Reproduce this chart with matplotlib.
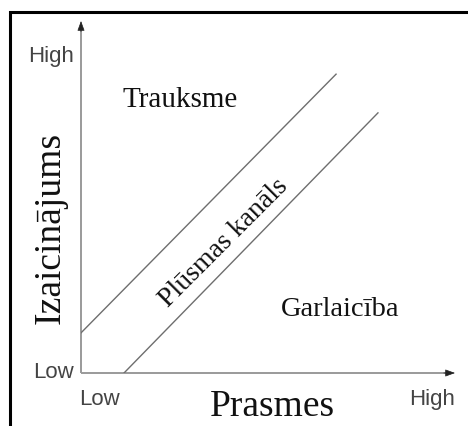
import matplotlib
matplotlib.use("Agg")
import matplotlib.pyplot as plt
from matplotlib.patches import Rectangle

# Data
tick_positions_x = [0.05, 0.94]
tick_labels_x = ["Low", "High"]
tick_positions_y = [0.01, 0.909]
tick_labels_y = ["Low", "High"]
upper_line_x = [0.0, 0.682]
upper_line_y = [0.114, 0.849]
lower_line_x = [0.115, 0.794]
lower_line_y = [0.0, 0.739]
region_labels = ["Trauksme", "Plūsmas kanāls", "Garlaicība"]
region_x = [0.265, 0.383, 0.693]
region_y = [0.778, 0.372, 0.182]
region_rot = [0, 45, 0]
region_size = [21, 20, 20.5]
x_label = "Prasmes"
y_label = "Izaicinājums"

W, H = 468, 427
fig = plt.figure(figsize=(W / 100, H / 100), dpi=100)
fig.patch.set_facecolor("white")

# outer frame
fig.patches.append(Rectangle((10 / W, -0.2), 1.3, 1 - 13 / H + 0.2, fill=False,
                             lw=2.2, edgecolor="black", transform=fig.transFigure,
                             clip_on=False))

ax = fig.add_axes([81 / W, 53 / H, (455 - 81) / W, (374 - 22) / H])
ax.set_xlim(0, 1)
ax.set_ylim(0, 1)
for s in ax.spines.values():
    s.set_visible(False)
ax.set_facecolor("none")

axis_col = "#9a9a9a"
ax.plot([0, 0.985], [0, 0], color=axis_col, lw=1.4, clip_on=False, solid_capstyle="butt")
ax.plot([0, 0], [0, 0.985], color=axis_col, lw=1.4, clip_on=False, solid_capstyle="butt")
ax.annotate("", xy=(1.0, 0), xytext=(0.97, 0),
            arrowprops=dict(arrowstyle="-|>,head_length=0.6,head_width=0.22",
                            color="#222222", lw=0.5, shrinkA=0, shrinkB=0),
            annotation_clip=False)
ax.annotate("", xy=(0, 1.0), xytext=(0, 0.97),
            arrowprops=dict(arrowstyle="-|>,head_length=0.6,head_width=0.22",
                            color="#222222", lw=0.5, shrinkA=0, shrinkB=0),
            annotation_clip=False)

line_col = "#6e6e6e"
ax.plot(upper_line_x, upper_line_y, color=line_col, lw=1.0)
ax.plot(lower_line_x, lower_line_y, color=line_col, lw=1.0)

serif = ["Liberation Serif", "DejaVu Serif"]
sans = ["Liberation Sans", "DejaVu Sans"]

for lab, x, y, r, fs in zip(region_labels, region_x, region_y, region_rot, region_size):
    ax.text(x, y, lab, ha="center", va="center", rotation=r, rotation_mode="anchor",
            fontsize=fs, family=serif, color="#111111")

ax.set_xticks(tick_positions_x, tick_labels_x)
ax.set_yticks(tick_positions_y, tick_labels_y)
ax.tick_params(axis="both", length=0, labelsize=16, labelcolor="#444444")
ax.tick_params(axis="x", pad=11)
ax.tick_params(axis="y", pad=5)
for t in ax.get_xticklabels() + ax.get_yticklabels():
    t.set_family(sans)

ax.set_xlabel(x_label, fontsize=27, family=serif, color="#111111")
ax.xaxis.label.set_va("center")
ax.xaxis.set_label_coords(0.511, -0.094)
ax.set_ylabel(y_label, fontsize=27, family=serif, color="#111111")
ax.yaxis.label.set_va("center")
ax.yaxis.set_label_coords(-0.083, 0.415)

fig.savefig("out.png", dpi=100)
